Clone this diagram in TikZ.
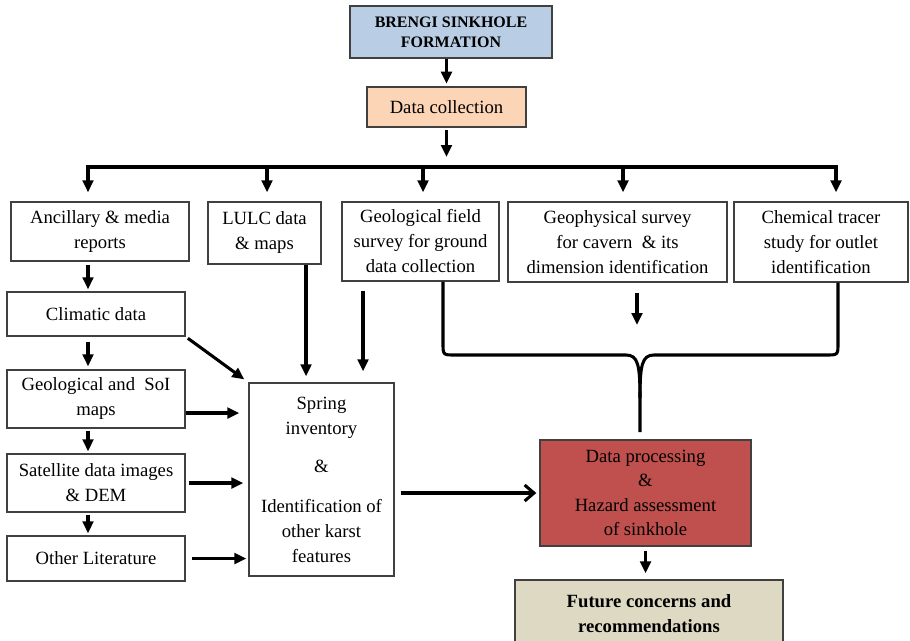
\documentclass[tikz,border=0pt]{standalone}
\usepackage{fontspec}
\setmainfont{Liberation Serif}
\usetikzlibrary{arrows.meta}
\definecolor{hdrblue}{HTML}{B9CDE5}
\definecolor{peach}{HTML}{FBD5B5}
\definecolor{dpred}{HTML}{C0504D}
\definecolor{beige}{HTML}{DDD9C3}
\tikzset{
 box/.style={draw=black!75, line width=1pt, align=center, inner sep=0pt, font=\fontsize{14}{18.75}\selectfont},
 ln/.style={line width=2.3pt},
 arr/.style={ln, -{Triangle[length=9pt,width=8pt]}},
}
\begin{document}
\begin{tikzpicture}[x=0.75pt,y=-0.75pt]
\useasboundingbox (0,0) rectangle (910,640);
\clip (0,0) rectangle (910,640);
% nodes
\node[box, fill=hdrblue, minimum width=151.5pt, minimum height=39pt, font=\fontsize{12}{15}\selectfont\bfseries] (brengi) at (451,32) {BRENGI SINKHOLE\\FORMATION};
\node[box, fill=peach, minimum width=119.25pt, minimum height=30pt] (dc) at (446.5,107) {Data collection};
\node[box, minimum width=133.5pt, minimum height=44.25pt] (anc) at (100,231.5) {Ancillary \& media\\reports};
\node[box, minimum width=84.75pt, minimum height=46.5pt] (lulc) at (264.5,233) {LULC data\\\& maps};
\node[box, minimum width=117.75pt, minimum height=59.25pt] (geo) at (420.5,241.5) {Geological field\\survey for ground\\data collection};
\node[box, minimum width=164.25pt, minimum height=60pt] (geoph) at (617.5,242) {Geophysical survey\\for cavern\enspace\& its\\dimension identification};
\node[box, minimum width=130.5pt, minimum height=60pt] (chem) at (821,242) {Chemical tracer\\study for outlet\\identification};
\node[box, minimum width=133.5pt, minimum height=33pt] (clim) at (96,314) {Climatic data};
\node[box, minimum width=133.5pt, minimum height=43.5pt] (soi) at (96,399) {Geological and\enspace SoI\\maps};
\node[box, minimum width=133.5pt, minimum height=43.5pt] (sat) at (96,483) {Satellite data images\\\& DEM};
\node[box, minimum width=133.5pt, minimum height=33.75pt] (other) at (96,558.5) {Other Literature};
\node[box, minimum width=108.75pt, minimum height=144.75pt] (spring) at (321.5,479.5) {Spring\\inventory\\[10pt]\&\\[11pt]Identification of\\other karst\\features};
\node[box, fill=dpred, minimum width=158.25pt, minimum height=79.5pt, font=\fontsize{14}{18.25}\selectfont] (dp) at (645.5,493) {Data processing\\\&\\Hazard assessment\\of sinkhole};
\node[box, fill=beige, minimum width=201pt, minimum height=51pt, font=\fontsize{14}{18.75}\selectfont\bfseries] (fut) at (649,614) {Future concerns and\\recommendations};
% coordinates
\coordinate (dcend) at (446.5,157);
\coordinate (b1) at (88,167);
\coordinate (b2) at (267,167);
\coordinate (b3) at (423,167);
\coordinate (b4) at (623,167);
\coordinate (b5) at (836,167);
\coordinate (lx) at (306,0);
\coordinate (gx) at (363,0);
\coordinate (bl) at (443,0);
\coordinate (br) at (838,0);
\coordinate (tip) at (640,432);
\coordinate (gpx) at (637,0);
\coordinate (gpend) at (637,325);
% connectors
\draw[arr, shorten >=2pt] (brengi.south -| dc.north) -- (dc.north);
\draw[arr, shorten <=2pt] (dc.south) -- (dcend);
\draw[ln, line cap=rect] (b1) -- (b5);
\draw[arr, shorten >=6.75pt] (b1) -- (b1 |- anc.north);
\draw[arr, shorten >=6.75pt] (b2) -- (b2 |- lulc.north);
\draw[arr, shorten >=6.75pt] (b3) -- (b3 |- geo.north);
\draw[arr, shorten >=6.75pt] (b4) -- (b4 |- geoph.north);
\draw[arr, shorten >=6.75pt] (b5) -- (b5 |- chem.north);
\draw[arr, shorten <=2.25pt, shorten >=1.5pt] (anc.south -| b1) -- (clim.north -| b1);
\draw[arr, shorten <=3.75pt, shorten >=2.25pt] (clim.south -| b1) -- (soi.north -| b1);
\draw[arr, shorten <=1.5pt, shorten >=1.5pt] (soi.south -| b1) -- (sat.north -| b1);
\draw[arr, shorten <=1.5pt, shorten >=1.5pt] (sat.south -| b1) -- (other.north -| b1);
\draw[arr, shorten <=2pt, shorten >=3.75pt] (clim.south east) -- (spring.north west);
\draw[arr, shorten >=6.75pt] ([yshift=-10.5pt]soi.east) -- ([yshift=-10.5pt]soi.east -| spring.west);
\draw[arr, shorten <=2.25pt, shorten >=3.75pt] (sat.east) -- (sat.east -| spring.west);
\draw[arr, shorten <=4.5pt, shorten >=1.5pt] (other.east) -- (other.east -| spring.west);
\draw[arr, shorten >=4.5pt] (lulc.south -| lx) -- (spring.north -| lx);
\draw[arr, shorten <=6.75pt, shorten >=8.25pt] (geo.south -| gx) -- (spring.north -| gx);
\draw[arr, shorten <=7.5pt] (geoph.south -| gpx) -- (gpend);
% brace
\draw[ln, line join=round] (geo.south -| bl) -- (443,343) .. controls (443,355) .. (455,355) -- (626,355) .. controls (638,355) and (640,365) .. (640,398) -- (tip);
\draw[ln, line join=round] (chem.south -| br) -- (838,343) .. controls (838,355) .. (826,355) -- (654,355) .. controls (642,355) and (640,365) .. (640,398);
\draw[ln, -{Straight Barb[length=7pt,width=12pt]}, shorten <=4.5pt, shorten >=2.25pt] (spring.east |- dp.west) -- (dp.west);
\draw[arr, shorten <=3pt, shorten >=4.5pt] (dp.south) -- (fut.north -| dp.south);
\end{tikzpicture}
\end{document}
